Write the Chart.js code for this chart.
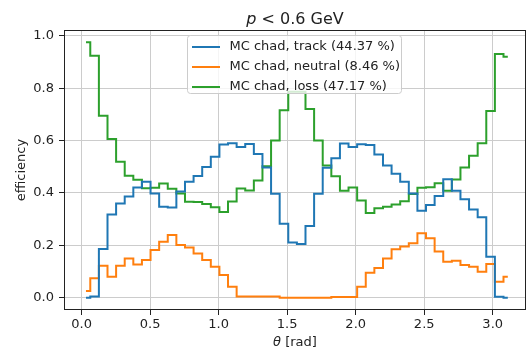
<!DOCTYPE html>
<html>
<head>
<meta charset="utf-8">
<script src="https://cdn.jsdelivr.net/npm/chart.js@4/dist/chart.umd.min.js"></script>
<style>
  html, body { margin: 0; padding: 0; background: #fff; }
</style>
</head>
<body>
<canvas id="effChart" width="530" height="355"></canvas>
<script>
// theta bin centres [rad], 50 bins over 0..pi
var theta = [0.0314, 0.0942, 0.1571, 0.2199, 0.2827, 0.3456, 0.4084, 0.4712, 0.5341, 0.5969,
             0.6597, 0.7226, 0.7854, 0.8482, 0.9111, 0.9739, 1.0367, 1.0996, 1.1624, 1.2252,
             1.2881, 1.3509, 1.4137, 1.4765, 1.5394, 1.6022, 1.6650, 1.7279, 1.7907, 1.8535,
             1.9164, 1.9792, 2.0420, 2.1049, 2.1677, 2.2305, 2.2934, 2.3562, 2.4190, 2.4819,
             2.5447, 2.6075, 2.6704, 2.7332, 2.7960, 2.8588, 2.9217, 2.9845, 3.0473, 3.1102];

// efficiencies per bin
var track = [0.000, 0.005, 0.186, 0.318, 0.360, 0.386, 0.421, 0.443, 0.398, 0.347,
             0.344, 0.405, 0.443, 0.465, 0.499, 0.538, 0.585, 0.590, 0.575, 0.587,
             0.549, 0.497, 0.397, 0.282, 0.211, 0.205, 0.274, 0.397, 0.496, 0.532,
             0.589, 0.575, 0.586, 0.583, 0.547, 0.505, 0.473, 0.443, 0.398, 0.332,
             0.354, 0.388, 0.452, 0.408, 0.376, 0.337, 0.307, 0.156, 0.004, 0.000];

var neutral = [0.026, 0.074, 0.122, 0.080, 0.122, 0.150, 0.127, 0.144, 0.182, 0.214,
               0.239, 0.201, 0.192, 0.169, 0.144, 0.118, 0.087, 0.042, 0.005, 0.005,
               0.005, 0.005, 0.005, 0.000, 0.000, 0.000, 0.000, 0.000, 0.000, 0.003,
               0.003, 0.003, 0.042, 0.095, 0.113, 0.150, 0.185, 0.195, 0.208, 0.246,
               0.227, 0.176, 0.137, 0.141, 0.125, 0.118, 0.099, 0.129, 0.061, 0.080];

var loss = [0.975, 0.924, 0.695, 0.606, 0.519, 0.466, 0.450, 0.418, 0.420, 0.436,
            0.416, 0.398, 0.366, 0.365, 0.358, 0.345, 0.327, 0.367, 0.417, 0.409,
            0.447, 0.502, 0.600, 0.716, 0.786, 0.786, 0.720, 0.600, 0.505, 0.464,
            0.408, 0.421, 0.371, 0.323, 0.341, 0.347, 0.356, 0.368, 0.396, 0.420,
            0.422, 0.437, 0.408, 0.451, 0.497, 0.542, 0.590, 0.713, 0.930, 0.920];

var seriesLabels = ['MC chad, track (44.37 %)', 'MC chad, neutral (8.46 %)', 'MC chad, loss (47.17 %)'];
var seriesColors = ['#1f77b4', '#ff7f0e', '#2ca02c'];
var xTicks = [0.0, 0.5, 1.0, 1.5, 2.0, 2.5, 3.0];
var yTicks = [0.0, 0.2, 0.4, 0.6, 0.8, 1.0];

var FONT = '"DejaVu Sans", sans-serif';

function toPoints(vals) {
    return theta.map(function(t, i) { return { x: t, y: vals[i] }; });
}

function makeSet(i, vals) {
    return {
        label: seriesLabels[i],
        data: toPoints(vals),
        borderColor: seriesColors[i],
        backgroundColor: seriesColors[i],
        borderWidth: 2,
        pointRadius: 0,
        stepped: 'middle',
        fill: false
    };
}

// frame, legend box, title and axis titles (matplotlib-ish)
var decorations = {
    id: 'decorations',
    afterDatasetsDraw: function(chart) {
        var ctx = chart.ctx, a = chart.chartArea;
        ctx.save();

        // axes frame
        ctx.strokeStyle = '#222';
        ctx.lineWidth = 1;
        ctx.strokeRect(Math.round(a.left) + 0.5, Math.round(a.top) + 0.5,
                       Math.round(a.right - a.left) - 1, Math.round(a.bottom - a.top) - 1);

        // legend
        var lx = 187.5, ly = 35.5, lw = 214, lh = 58, r = 3;
        ctx.beginPath();
        ctx.moveTo(lx + r, ly);
        ctx.lineTo(lx + lw - r, ly);
        ctx.arcTo(lx + lw, ly, lx + lw, ly + r, r);
        ctx.lineTo(lx + lw, ly + lh - r);
        ctx.arcTo(lx + lw, ly + lh, lx + lw - r, ly + lh, r);
        ctx.lineTo(lx + r, ly + lh);
        ctx.arcTo(lx, ly + lh, lx, ly + lh - r, r);
        ctx.lineTo(lx, ly + r);
        ctx.arcTo(lx, ly, lx + r, ly, r);
        ctx.closePath();
        ctx.fillStyle = 'rgba(255,255,255,0.8)';
        ctx.fill();
        ctx.strokeStyle = '#cccccc';
        ctx.stroke();

        var rows = [47, 67, 87];
        ctx.font = '13px ' + FONT;
        ctx.textBaseline = 'middle';
        ctx.textAlign = 'left';
        chart.data.datasets.forEach(function(ds, i) {
            ctx.strokeStyle = ds.borderColor;
            ctx.lineWidth = 2;
            ctx.beginPath();
            ctx.moveTo(192, rows[i]);
            ctx.lineTo(220, rows[i]);
            ctx.stroke();
            ctx.fillStyle = '#222';
            ctx.fillText(ds.label, 229.5, rows[i]);
        });
        ctx.restore();
    },
    afterDraw: function(chart) {
        var ctx = chart.ctx, a = chart.chartArea;
        var cx = (a.left + a.right) / 2;
        ctx.save();
        ctx.fillStyle = '#222';
        ctx.textBaseline = 'alphabetic';
        ctx.textAlign = 'left';

        // title: italic p, then the rest
        ctx.font = 'italic 16px ' + FONT;
        var w1 = ctx.measureText('p').width;
        ctx.font = '16px ' + FONT;
        var w2 = ctx.measureText(' < 0.6 GeV').width;
        var x0 = cx - (w1 + w2) / 2;
        ctx.font = 'italic 16px ' + FONT;
        ctx.fillText('p', x0, 24);
        ctx.font = '16px ' + FONT;
        ctx.fillText(' < 0.6 GeV', x0 + w1, 24);

        // x title
        ctx.font = 'italic 13px ' + FONT;
        var t1 = ctx.measureText('\u03b8').width;
        ctx.font = '13px ' + FONT;
        var t2 = ctx.measureText(' [rad]').width;
        var xs = cx - (t1 + t2) / 2;
        ctx.font = 'italic 13px ' + FONT;
        ctx.fillText('\u03b8', xs, 346);
        ctx.font = '13px ' + FONT;
        ctx.fillText(' [rad]', xs + t1, 346);

        // y title
        ctx.translate(22, (a.top + a.bottom) / 2);
        ctx.rotate(-Math.PI / 2);
        ctx.textAlign = 'center';
        ctx.textBaseline = 'middle';
        ctx.fillText('efficiency', 0, 0);
        ctx.restore();
    }
};

var ctx = document.getElementById('effChart').getContext('2d');
var chart = new Chart(ctx, {
    type: 'line',
    data: {
        datasets: [makeSet(0, track), makeSet(1, neutral), makeSet(2, loss)]
    },
    options: {
        responsive: false,
        animation: false,
        layout: { padding: { left: 0, right: 4, top: 30, bottom: 0 } },
        plugins: {
            legend: { display: false },
            title: { display: false },
            tooltip: { enabled: false }
        },
        scales: {
            x: {
                type: 'linear',
                min: -0.129,
                max: 3.243,
                afterBuildTicks: function(s) { s.ticks = xTicks.map(function(v) { return { value: v }; }); },
                afterFit: function(s) { s.height = 45; },
                grid: { color: '#cccccc', lineWidth: 1, tickLength: 5, tickColor: '#222' },
                border: { display: false },
                ticks: {
                    padding: 2, color: '#222', autoSkip: false, maxRotation: 0,
                    font: { family: FONT, size: 13 },
                    callback: function(v) { return v.toFixed(1); }
                }
            },
            y: {
                min: -0.047,
                max: 1.022,
                afterBuildTicks: function(s) { s.ticks = yTicks.map(function(v) { return { value: v }; }); },
                afterFit: function(s) { s.width = 64; },
                grid: { color: '#cccccc', lineWidth: 1, tickLength: 5, tickColor: '#222' },
                border: { display: false },
                ticks: {
                    padding: 5, color: '#222', autoSkip: false,
                    font: { family: FONT, size: 13 },
                    callback: function(v) { return v.toFixed(1); }
                }
            }
        }
    },
    plugins: [decorations]
});
</script>
</body>
</html>
